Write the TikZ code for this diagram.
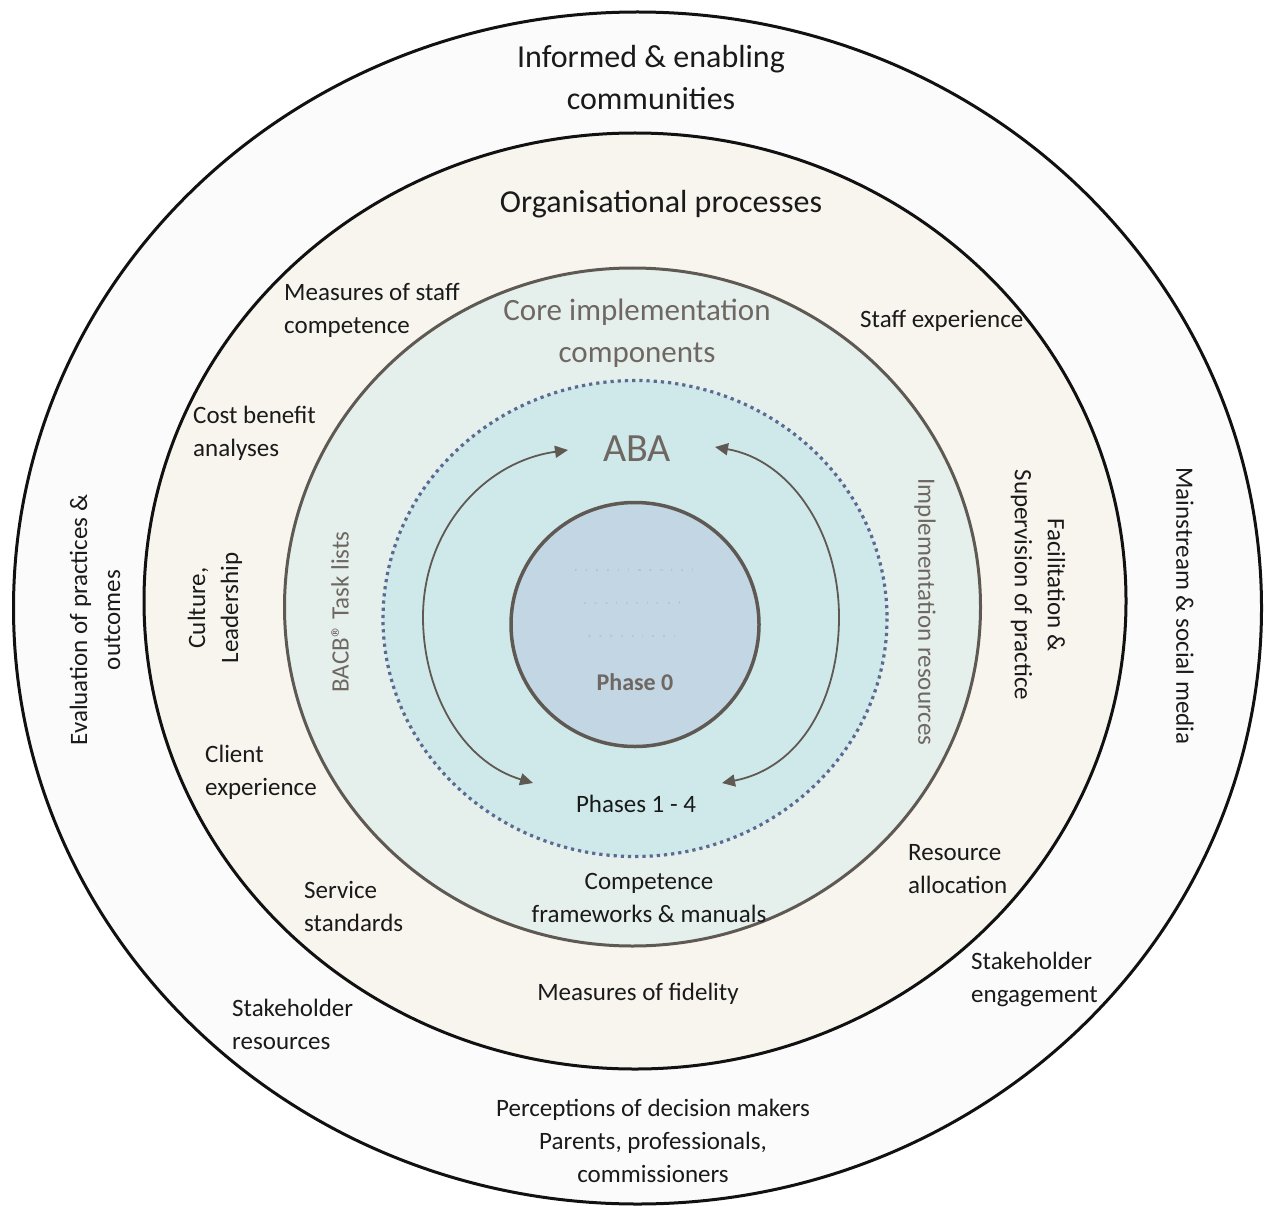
\documentclass[tikz,border=0pt]{standalone}
\usepackage{fontspec}
\setmainfont{Carlito}
\newfontfamily\faintfont[LetterSpace=220]{Carlito}
\usetikzlibrary{arrows.meta}

\definecolor{ringA}{HTML}{FAFBFA}
\definecolor{ringB}{HTML}{F8F5EF}
\definecolor{ringC}{HTML}{E5EFEC}
\definecolor{ringD}{HTML}{CFE9EA}
\definecolor{coreD}{HTML}{C3D6E3}
\definecolor{edgeDark}{HTML}{111111}
\definecolor{edgeGrey}{HTML}{5F5954}
\definecolor{dotBlue}{HTML}{5A6A92}
\definecolor{txt}{HTML}{1A1A1A}
\definecolor{txtGrey}{HTML}{6E6762}
\definecolor{faint}{HTML}{A4AEB2}

\tikzset{
  lbl/.style={font=\fontsize{25}{33}\selectfont, text=txt, inner sep=0pt},
  title/.style={font=\fontsize{32}{42}\selectfont, text=txt, inner sep=0pt, align=center},
  greylbl/.style={font=\fontsize{25}{33}\selectfont, text=txtGrey, inner sep=0pt},
  cycle arrow/.style={draw=edgeGrey, line width=1.8pt,
    {Triangle[length=13pt,width=12pt]}-{Triangle[length=13pt,width=12pt]}},
}

\begin{document}
\begin{tikzpicture}[x=1pt,y=-1pt]
  \useasboundingbox (0,0) rectangle (1268,1206);
  \fill[white] (0,0) rectangle (1268,1206);

  % nested rings
  \draw[fill=ringA, draw=edgeDark, line width=3pt] (637.5,608) ellipse [x radius=624, y radius=596];
  \draw[fill=ringB, draw=edgeDark, line width=3pt] (635,601) ellipse [x radius=491, y radius=468];
  \draw[fill=ringC, draw=edgeGrey, line width=3pt] (632.5,607) ellipse [x radius=348, y radius=339];
  \draw[fill=ringD, draw=dotBlue, line width=3.2pt, dash pattern=on 3.2pt off 4pt] (635,618.5) ellipse [x radius=252, y radius=238];
  \draw[fill=coreD, draw=edgeGrey, line width=3.5pt] (635,624.5) ellipse [x radius=124, y radius=122];

  % outer ring labels
  \node[title] (informed) at (651,78) {Informed \& enabling\\communities};
  \node[lbl, rotate=90, align=center] (evaluation) at (95,620) {Evaluation of practices \&\\outcomes};
  \node[lbl, rotate=-90] (mainstream) at (1185,606) {Mainstream \& social media};
  \node[lbl, align=left, anchor=west] (stakeres) at (232,1024) {Stakeholder\\resources};
  \node[lbl, align=left, anchor=west] (stakeeng) at (971,979) {Stakeholder\\engagement};
  \node[lbl, align=center] (perceptions) at (653,1141) {Perceptions of decision makers\\Parents, professionals,\\commissioners};

  % organisational ring labels
  \node[title] (organisational) at (661,204) {Organisational processes};
  \node[lbl, align=left, anchor=west] (staffcomp) at (284,310) {Measures of staff\\competence};
  \node[lbl, anchor=west] (staffexp) at (860,321) {Staff experience};
  \node[lbl, align=left, anchor=west] (costbenefit) at (193,433) {Cost benefit\\analyses};
  \node[lbl, rotate=90, align=center] (culture) at (215,608) {Culture,\\Leadership};
  \node[lbl, rotate=-90, align=center] (facilitation) at (1038,585) {Facilitation \&\\Supervision of practice};
  \node[lbl, align=left, anchor=west] (clientexp) at (205,772) {Client\\experience};
  \node[lbl, align=left, anchor=west] (service) at (304,906) {Service\\standards};
  \node[lbl, align=left, anchor=west] (resource) at (908,869) {Resource\\allocation};
  \node[lbl] (fidelity) at (638,994) {Measures of fidelity};

  % core implementation ring labels
  \node[title, font=\fontsize{31}{42}\selectfont, text=txtGrey] (core) at (637,333) {Core implementation\\components};
  \node[greylbl, rotate=90] (bacb) at (340,612) {BACB® Task lists};
  \node[greylbl, rotate=-90] (implres) at (925,612) {Implementation resources};
  \node[lbl, align=center] (competence) at (649,898) {Competence\\frameworks \& manuals};

  % ABA cycle
  \node[font=\fontsize{40}{44}\selectfont, text=txtGrey, inner sep=0pt] (aba) at (637,449) {ABA};
  \node[lbl] (phases) at (636,804) {Phases 1 - 4};
  \coordinate (lefttop) at (568,450);
  \coordinate (leftbot) at (533,783);
  \coordinate (righttop) at (715,447);
  \coordinate (rightbot) at (722,783);
  \draw[cycle arrow] (leftbot) .. controls (462,762) and (423,692) .. (423,617)
                     .. controls (423,532) and (482,462) .. (lefttop);
  \draw[cycle arrow] (righttop) .. controls (790,460) and (839,532) .. (839,617)
                     .. controls (839,700) and (800,768) .. (rightbot);

  % centre
  \node[font=\fontsize{4}{4}\faintfont, text=faint, inner sep=0pt] (exp1) at (634,570) {experimental};
  \node[font=\fontsize{4}{4}\faintfont, text=faint, inner sep=0pt] (exp2) at (632,603) {analysis of};
  \node[font=\fontsize{4}{4}\faintfont, text=faint, inner sep=0pt] (exp3) at (632,636) {behaviour};
  \node[font=\fontsize{24}{28}\selectfont\bfseries, text=txtGrey, inner sep=0pt] (phase0) at (635,682) {Phase 0};
\end{tikzpicture}
\end{document}
